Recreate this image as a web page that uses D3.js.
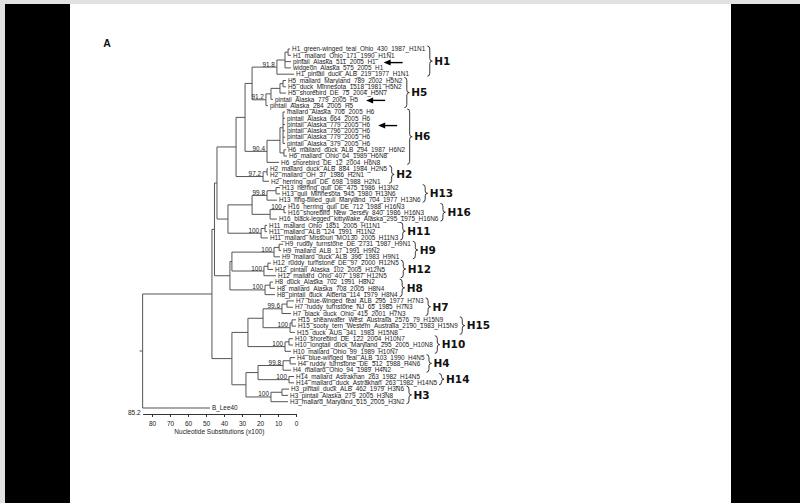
<!DOCTYPE html>
<html>
<head>
<meta charset="utf-8">
<script src="https://cdn.jsdelivr.net/npm/d3@7"></script>
<style>
  body { margin: 0; background: #fff; }
  svg { display: block; }
</style>
</head>
<body>
<div id="chart"></div>
<script>
// leaf labels, top to bottom
const leafNames = [
  "H1_green-winged_teal_Ohio_430_1987_H1N1", "H1_mallard_Ohio_171_1990_H1N1",
  "pintail_Alaska_511_2005_H1", "widgeon_Alaska_575_2005_H1", "H1_pintail_duck_ALB_219_1977_H1N1",
  "H5_mallard_Maryland_789_2002_H5N2", "H5_duck_Minnesota_1518_1981_H5N2", "H5_shorebird_DE_75_2004_H5N7",
  "pintail_Alaska_779_2005_H5", "pintail_Alaska_284_2005_H5",
  "mallard_Alaska_706_2005_H6", "pintail_Alaska_664_2005_H6", "pintail_Alaska_779_2005_H6",
  "pintail_Alaska_796_2005_H6", "pintail_Alaska_779_2005_H6", "pintail_Alaska_379_2005_H6",
  "H6_mallard_duck_ALB_294_1987_H6N2", "H6_mallard_Ohio_64_1989_H6N8", "H6_shorebird_DE_12_2004_H6N8",
  "H2_mallard_duck_ALB_884_1984_H2N5", "H2_mallard_OH_37_1986_H2N1", "H2_herring_gull_DE_698_1988_H2N1",
  "H13_herring_gull_DE_475_1986_H13N2", "H13_gull_Minnesota_945_1980_H13N6", "H13_ring-billed_gull_Maryland_704_1977_H13N6",
  "H16_herring_gull_DE_712_1988_H16N3", "H16_shorebird_New_Jersey_840_1986_H16N3", "H16_black-legged_kittywake_Alaska_295_1975_H16N6",
  "H11_mallard_Ohio_1851_2005_H11N1", "H11_mallard_ALB_124_1991_H11N2", "H11_mallard_Missouri_MO130_2005_H11N3",
  "H9_ruddy_turnstone_DE_2731_1987_H9N1", "H9_mallard_ALB_17_1991_H9N2", "H9_mallard_duck_ALB_396_1983_H9N1",
  "H12_ruddy_turnstone_DE_97_2000_H12N5", "H12_pintail_Alaska_102_2005_H12N5", "H12_mallard_Ohio_407_1987_H12N5",
  "H8_duck_Alaska_702_1991_H8N2", "H8_mallard_Alaska_708_2005_H8N4", "H8_pintail_duck_Alberta_114_1979_H8N4",
  "H7_blue-winged_teal_ALB_295_1977_H7N3", "H7_ruddy_turnstone_NJ_65_1985_H7N3", "H7_black_duck_Ohio_415_2001_H7N3",
  "H15_shearwater_West_Australia_2576_79_H15N9", "H15_sooty_tern_Western_Australia_2190_1983_H15N9", "H15_duck_AUS_341_1983_H15N8",
  "H10_shorebird_DE_122_2004_H10N7", "H10_longtail_duck_Maryland_295_2005_H10N8", "H10_mallard_Ohio_99_1989_H10N7",
  "H4_blue-winged_teal_ALB_103_1990_H4N5", "H4_ruddy_turnstone_DE_512_1988_H4N6", "H4_mallard_Ohio_94_1989_H4N2",
  "H14_mallard_Astrakhan_263_1982_H14N5", "H14_mallard_duck_Astrakhan_263_1982_H14N5",
  "H3_pintail_duck_ALB_462_1979_H3N6", "H3_pintail_Alaska_279_2005_H3N8", "H3_mallard_Maryland_615_2005_H3N2",
  "B_Lee40"
];

// [id, parent, node depth (substitutions x100), bootstrap]; leaves are "L" + index
const treeNodes = [
  ["root", null, 85.2], ["A", "root", 46.7], ["L57", "root", 47.8],
  ["H", "A", 45.3], ["C", "A", 35.6],
  ["G", "H", 43.9], ["X", "H", 36.7],
  ["F", "G", 33.3], ["Q", "G", 37.8],
  ["E", "F", 28.3], ["nH2", "F", 18.3, "97.2"],
  ["P15", "E", 24.4], ["nH6", "E", 16.1, "90.4"],
  ["nH1", "P15", 10.6, "91.8"], ["nH5", "P15", 16.7, "91.2"],
  ["N1", "nH1", 6.1], ["L4", "nH1", 1.1],
  ["N1a", "N1", 4.4], ["L2", "N1", 2.8], ["L3", "N1", 2.8],
  ["L0", "N1a", 3.3], ["L1", "N1a", 2.8],
  ["N5a", "nH5", 13.9], ["L9", "nH5", 15.6],
  ["N5b", "N5a", 8.9], ["L8", "N5a", 12.8],
  ["N5c", "N5b", 7.2], ["L7", "N5b", 5.6],
  ["L5", "N5c", 5.6], ["L6", "N5c", 5.6],
  ["N6c", "nH6", 8.9], ["L18", "nH6", 9.4],
  ["N6a", "N6c", 7.2], ["N6b", "N6c", 6.7],
  ["L10", "N6a", 6.1], ["L11", "N6a", 6.1], ["L12", "N6a", 6.1],
  ["L13", "N6a", 6.1], ["L14", "N6a", 6.1], ["L15", "N6a", 6.1],
  ["L16", "N6b", 5.6], ["L17", "N6b", 5.0],
  ["N2a", "nH2", 16.1], ["L21", "nH2", 15.0],
  ["L19", "N2a", 15.6], ["L20", "N2a", 15.6],
  ["R", "Q", 24.4], ["nH11", "Q", 19.4, "100"],
  ["nH13", "R", 16.1, "99.8"], ["nH16", "R", 14.4],
  ["N13a", "nH13", 11.1], ["L24", "nH13", 10.6],
  ["L22", "N13a", 8.9], ["L23", "N13a", 8.9],
  ["N16a", "nH16", 6.7, "100"], ["L27", "nH16", 10.6],
  ["L25", "N16a", 5.6], ["L26", "N16a", 5.6],
  ["N11a", "nH11", 17.2], ["L30", "nH11", 15.6],
  ["L28", "N11a", 16.1], ["L29", "N11a", 16.1],
  ["W", "X", 35.6], ["nH8", "X", 17.2, "100"],
  ["nH9", "W", 12.2, "100"], ["nH12", "W", 17.8, "100"],
  ["N9a", "nH9", 9.4], ["L33", "nH9", 8.9],
  ["L31", "N9a", 7.2], ["L32", "N9a", 8.3],
  ["N12a", "nH12", 15.6], ["L36", "nH12", 11.1],
  ["L34", "N12a", 13.9], ["L35", "N12a", 12.8],
  ["N8a", "nH8", 14.4], ["L39", "nH8", 11.7],
  ["L37", "N8a", 12.8], ["L38", "N8a", 11.7],
  ["I", "C", 26.7], ["K", "C", 27.8],
  ["J", "I", 18.3], ["nH10", "I", 6.1, "100"],
  ["nH7", "J", 7.8, "99.6"], ["nH15", "J", 3.3, "100"],
  ["N7a", "nH7", 5.0], ["L42", "nH7", 2.8],
  ["L40", "N7a", 1.1], ["L41", "N7a", 1.7],
  ["N15a", "nH15", 2.2], ["L45", "nH15", 0.6],
  ["L43", "N15a", 0], ["L44", "N15a", 0],
  ["N10a", "nH10", 3.9], ["L48", "nH10", 2.8],
  ["L46", "N10a", 1.7], ["L47", "N10a", 1.7],
  ["M", "K", 21.1], ["nH3", "K", 13.9, "100"],
  ["nH4", "M", 7.2, "99.8"], ["nH14", "M", 3.9, "100"],
  ["N4a", "nH4", 3.3], ["L51", "nH4", 2.8],
  ["L49", "N4a", 0.6], ["L50", "N4a", 0],
  ["L52", "nH14", 1.1], ["L53", "nH14", 1.1],
  ["N3a", "nH3", 7.8], ["L56", "nH3", 4.4],
  ["L54", "N3a", 3.9], ["L55", "N3a", 4.4]
];

// subtype brackets: first and last leaf index
const clades = [
  ["H1", 0, 4], ["H5", 5, 9], ["H6", 10, 18], ["H2", 19, 21], ["H13", 22, 24],
  ["H16", 25, 27], ["H11", 28, 30], ["H9", 31, 33], ["H12", 34, 36], ["H8", 37, 39],
  ["H7", 40, 42], ["H15", 43, 45], ["H10", 46, 48], ["H4", 49, 51], ["H14", 52, 53], ["H3", 54, 56]
];

// leaves marked with an arrow
const arrowLeaves = [2, 8, 12];
const axisTicks = [80, 70, 60, 50, 40, 30, 20, 10, 0];
const rootDepth = 85.2;

const width = 800, height = 503;
const lineColor = "#555";
const textColor = "#222";
const smallFont = "'Liberation Sans', Arial, sans-serif";

const svg = d3.select("#chart").append("svg")
    .attr("width", width)
    .attr("height", height);

// page frame
svg.append("rect").attr("width", width).attr("height", height).attr("fill", "#e2e2e2");
svg.append("rect").attr("x", 5).attr("y", 4).attr("width", 726).attr("height", height - 4).attr("fill", "#fff");
svg.append("rect").attr("x", 5).attr("y", 4).attr("width", 65).attr("height", height - 4).attr("fill", "#000");
svg.append("rect").attr("x", 731).attr("y", 4).attr("width", 69).attr("height", height - 4).attr("fill", "#000");

svg.append("text")
    .attr("x", 107).attr("y", 47)
    .attr("text-anchor", "middle")
    .attr("font-family", smallFont)
    .attr("font-weight", "bold")
    .attr("font-size", "10.5px")
    .attr("fill", "#111")
    .text("A");

// scales
const x = d3.scaleLinear().domain([0, rootDepth]).range([296, 296 - rootDepth * 1.8]);
const y = d3.scaleLinear().domain([0, leafNames.length - 1]).range([49, 408]);

const root = d3.stratify()
    .id(d => d[0])
    .parentId(d => d[1])(treeNodes);

root.eachAfter(n => {
    n.px = x(n.data[2]);
    if (!n.children) {
        n.idx = +n.id.slice(1);
        n.py = y(n.idx);
    } else {
        const ys = n.children.map(c => c.py);
        n.py = (d3.min(ys) + d3.max(ys)) / 2;
    }
});

const g = svg.append("g");

// horizontal branches
g.selectAll(".branch")
    .data(root.descendants().filter(d => d.parent))
    .enter()
    .append("path")
    .attr("class", "branch")
    .attr("d", d => `M${d.parent.px},${d.py}H${d.px}`)
    .attr("fill", "none")
    .attr("stroke", lineColor)
    .attr("stroke-width", 1);

// vertical connectors
g.selectAll(".connector")
    .data(root.descendants().filter(d => d.children))
    .enter()
    .append("path")
    .attr("class", "connector")
    .attr("d", d => {
        const ys = d.children.map(c => c.py);
        return `M${d.px},${d3.min(ys)}V${d3.max(ys)}`;
    })
    .attr("fill", "none")
    .attr("stroke", lineColor)
    .attr("stroke-width", 1);

// root stub
g.append("path")
    .attr("d", `M${root.px - 3},${root.py}H${root.px}`)
    .attr("stroke", lineColor);

// bootstrap values
g.selectAll(".boot")
    .data(root.descendants().filter(d => d.data[3]))
    .enter()
    .append("text")
    .attr("class", "boot")
    .attr("x", d => d.px - 2)
    .attr("y", d => d.py - 0.5)
    .attr("text-anchor", "end")
    .attr("font-family", smallFont)
    .attr("font-size", "6.4px")
    .attr("fill", textColor)
    .text(d => d.data[3]);

// leaf labels
const leaves = root.leaves();
const leafText = g.selectAll(".leaf")
    .data(leaves)
    .enter()
    .append("text")
    .attr("class", "leaf")
    .attr("x", d => d.px + 2)
    .attr("y", d => d.py)
    .attr("dy", "0.35em")
    .attr("font-family", smallFont)
    .attr("font-size", "6.4px")
    .attr("fill", textColor)
    .text(d => leafNames[d.idx]);

const leafEnd = {};
leafText.each(function(d) { leafEnd[d.idx] = d.px + 2 + this.getComputedTextLength(); });

// clade brackets
function brace(x0, y0, y1, w) {
    const m = (y0 + y1) / 2, h = w / 2;
    return `M${x0},${y0}Q${x0 + h},${y0} ${x0 + h},${y0 + 3}L${x0 + h},${m - 2.5}` +
           `Q${x0 + h},${m} ${x0 + w},${m}Q${x0 + h},${m} ${x0 + h},${m + 2.5}` +
           `L${x0 + h},${y1 - 3}Q${x0 + h},${y1} ${x0},${y1}`;
}

clades.forEach(([label, first, last]) => {
    const xEnd = d3.max(d3.range(first, last + 1), i => leafEnd[i]) + 2;
    const y0 = y(first) - 3, y1 = y(last) + 2;
    g.append("path")
        .attr("d", brace(xEnd, y0, y1, 5))
        .attr("fill", "none")
        .attr("stroke", "#222")
        .attr("stroke-width", 0.9);
    g.append("text")
        .attr("x", xEnd + 7)
        .attr("y", (y0 + y1) / 2)
        .attr("dy", "0.36em")
        .attr("font-family", "'DejaVu Sans', sans-serif")
        .attr("font-weight", "bold")
        .attr("font-size", "10.5px")
        .attr("fill", "#111")
        .text(label);
});

// arrows
arrowLeaves.forEach(i => {
    const ax = leafEnd[i] + 8, ay = y(i) + 1;
    g.append("line")
        .attr("x1", ax + 5).attr("x2", ax + 19)
        .attr("y1", ay).attr("y2", ay)
        .attr("stroke", "#000").attr("stroke-width", 1.4);
    g.append("path")
        .attr("d", `M${ax},${ay}L${ax + 7},${ay - 3}L${ax + 7},${ay + 3}Z`)
        .attr("fill", "#000");
});

// scale axis
const axisY = 414;
const axis = svg.append("g")
    .attr("transform", `translate(0,${axisY})`)
    .call(d3.axisBottom(x).tickValues(axisTicks).tickSize(3).tickSizeOuter(0).tickPadding(4));
axis.select(".domain").attr("stroke", "#333");
axis.selectAll(".tick line").attr("stroke", "#333");
axis.selectAll(".tick text")
    .attr("font-family", smallFont)
    .attr("font-size", "6.5px")
    .attr("fill", textColor);

svg.append("text")
    .attr("x", x(rootDepth) - 2)
    .attr("y", axisY + 1)
    .attr("text-anchor", "end")
    .attr("font-family", smallFont)
    .attr("font-size", "6.5px")
    .attr("fill", textColor)
    .text(rootDepth.toFixed(1));

svg.append("text")
    .attr("x", (x(0) + x(rootDepth)) / 2)
    .attr("y", axisY + 20)
    .attr("text-anchor", "middle")
    .attr("font-family", smallFont)
    .attr("font-size", "6.5px")
    .attr("fill", textColor)
    .text("Nucleotide Substitutions (x100)");
</script>
</body>
</html>
